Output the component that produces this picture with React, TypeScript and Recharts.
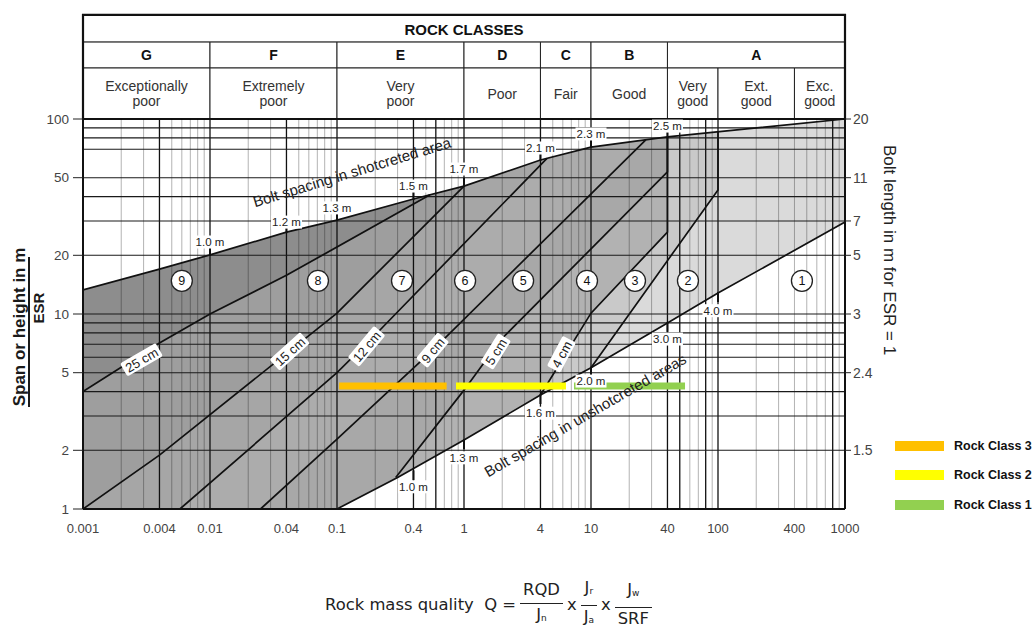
import React from "react";
import {
  ComposedChart,
  Area,
  Line,
  Scatter,
  XAxis,
  YAxis,
  ReferenceLine,
  ReferenceArea,
} from "recharts";

interface Pt {
  q: number;
  s: number;
}

// axes: rock mass quality Q (x) against span / ESR (y), both logarithmic
const qTicks = [0.001, 0.004, 0.01, 0.04, 0.1, 0.4, 1, 4, 10, 40, 100, 400, 1000];
const spanTicks = [1, 2, 5, 10, 20, 50, 100];
const boltTicks = [2, 5, 10, 20, 30, 50, 100];
const boltLengths = ["1.5", "2.4", "3", "5", "7", "11", "20"];

const qGridMinor = [
  0.002, 0.003, 0.005, 0.006, 0.007, 0.008, 0.009,
  0.02, 0.03, 0.05, 0.06, 0.07, 0.08, 0.09,
  0.2, 0.3, 0.5, 0.7, 0.8, 0.9,
  2, 3, 5, 6, 7, 8, 9,
  20, 30, 60, 70, 90,
  200, 300, 400, 500, 600, 700, 900,
];
const qGridMajor = [0.004, 0.01, 0.04, 0.1, 0.4, 0.6, 1, 4, 10, 40, 50, 80, 100, 800];
const spanGrid = [2, 3, 4, 5, 6, 7, 8, 9, 10, 20, 30, 40, 50, 70, 80, 90];

// boundary lines
const shotcreteLine: Pt[] = [
  { q: 0.001, s: 13.3 },
  { q: 0.004, s: 17 },
  { q: 0.01, s: 20.1 },
  { q: 0.04, s: 26.3 },
  { q: 0.1, s: 30.3 },
  { q: 0.4, s: 38.9 },
  { q: 1, s: 45.3 },
  { q: 4, s: 61.6 },
  { q: 10, s: 71.8 },
  { q: 40, s: 80.9 },
  { q: 1000, s: 100 },
];
const unshotcreteLine: Pt[] = [
  { q: 0.1, s: 1 },
  { q: 0.3, s: 1.45 },
  { q: 1, s: 2.26 },
  { q: 4, s: 3.84 },
  { q: 10, s: 5.3 },
  { q: 40, s: 9 },
  { q: 100, s: 12.8 },
  { q: 1000, s: 29.6 },
];
const line25cm: Pt[] = [
  { q: 0.001, s: 4 },
  { q: 0.004, s: 7.1 },
  { q: 0.01, s: 10 },
  { q: 0.04, s: 15.8 },
  { q: 0.0735, s: 19.7 },
  { q: 0.54, s: 40.9 },
];
const line15cm: Pt[] = [
  { q: 0.001, s: 1 },
  { q: 0.004, s: 1.89 },
  { q: 0.1, s: 10.1 },
  { q: 1, s: 45.3 },
];
const line12cm: Pt[] = [
  { q: 0.0058, s: 1 },
  { q: 0.1, s: 5 },
  { q: 0.218, s: 8.28 },
  { q: 4.5, s: 62.8 },
];
const line9cm: Pt[] = [
  { q: 0.025, s: 1 },
  { q: 0.1, s: 2.28 },
  { q: 0.57, s: 6.54 },
  { q: 27, s: 78.2 },
];
const line5cm: Pt[] = [
  { q: 0.29, s: 1.45 },
  { q: 1, s: 4.07 },
  { q: 1.94, s: 7.36 },
  { q: 40, s: 53.5 },
  { q: 40, s: 80.9 },
];
const line4cm: Pt[] = [
  { q: 4, s: 3.84 },
  { q: 10, s: 10.1 },
  { q: 40, s: 26.3 },
  { q: 40, s: 80.9 },
];
const lineBolting: Pt[] = [
  { q: 10, s: 5.3 },
  { q: 16.3, s: 8.28 },
  { q: 100, s: 43.3 },
  { q: 100, s: 85.9 },
];

const tailFrom = (line: Pt[]) => [
  ...line,
  ...shotcreteLine.filter((p) => p.q > line[line.length - 1].q),
];

// painted from the darkest (left) to the lightest (right)
const fillLayers = [
  { key: "r9", data: shotcreteLine, fill: "#8d8d8d" },
  { key: "r8", data: tailFrom(line25cm), fill: "#9e9e9e" },
  { key: "r7", data: tailFrom(line15cm), fill: "#a6a6a6" },
  { key: "r6", data: tailFrom(line12cm), fill: "#acacac" },
  { key: "r5", data: tailFrom(line9cm), fill: "#a8a8a8" },
  { key: "r4", data: tailFrom(line5cm), fill: "#b2b2b2" },
  { key: "r3", data: tailFrom(line4cm), fill: "#c9c9c9" },
  { key: "r2", data: tailFrom(lineBolting), fill: "#dadada" },
  { key: "r1", data: unshotcreteLine, fill: "#ffffff" },
];

const boundaryLines = [
  shotcreteLine,
  unshotcreteLine,
  line25cm,
  line15cm,
  line12cm,
  line9cm,
  line5cm,
  line4cm,
  lineBolting,
];

const thicknessLabels = [
  { q: 0.0029, s: 5.8, text: "25 cm", angle: -30 },
  { q: 0.0427, s: 6.4, text: "15 cm", angle: -42 },
  { q: 0.172, s: 6.8, text: "12 cm", angle: -50 },
  { q: 0.57, s: 6.5, text: "9 cm", angle: -50 },
  { q: 1.79, s: 6.4, text: "5 cm", angle: -58 },
  { q: 5.9, s: 6.2, text: "4 cm", angle: -62 },
];

const shotcreteSpacing = [
  { q: 0.01, s: 20.1, text: "1.0 m", ls: 23.4 },
  { q: 0.04, s: 26.3, text: "1.2 m", ls: 29.6 },
  { q: 0.1, s: 30.3, text: "1.3 m", ls: 35 },
  { q: 0.4, s: 38.9, text: "1.5 m", ls: 45.3 },
  { q: 1, s: 45.3, text: "1.7 m", ls: 55.4 },
  { q: 4, s: 61.6, text: "2.1 m", ls: 71 },
  { q: 10, s: 71.8, text: "2.3 m", ls: 83.8 },
  { q: 40, s: 80.9, text: "2.5 m", ls: 92 },
];
const unshotcreteSpacing = [
  { q: 0.4, s: 1.56, text: "1.0 m", ls: 1.3 },
  { q: 1, s: 2.26, text: "1.3 m", ls: 1.83 },
  { q: 4, s: 3.84, text: "1.6 m", ls: 3.1 },
  { q: 10, s: 5.3, text: "2.0 m", ls: 4.53 },
  { q: 40, s: 9, text: "3.0 m", ls: 7.44 },
  { q: 100, s: 12.8, text: "4.0 m", ls: 10.4 },
];

const categoryMarks = [
  { q: 0.006, s: 14.8, n: 9 },
  { q: 0.0708, s: 14.8, n: 8 },
  { q: 0.325, s: 14.8, n: 7 },
  { q: 1.02, s: 14.8, n: 6 },
  { q: 2.92, s: 14.8, n: 5 },
  { q: 9.3, s: 14.8, n: 4 },
  { q: 22.2, s: 14.8, n: 3 },
  { q: 58, s: 14.8, n: 2 },
  { q: 458, s: 14.8, n: 1 },
];

const lineTitles = [
  { q: 0.131, s: 53.5, text: "Bolt spacing in shotcreted area", angle: -17 },
  { q: 9, s: 3.03, text: "Bolt spacing in unshotcreted areas", angle: -30 },
];

const rockClassBars = [
  { name: "Rock Class 3", color: "#FFC000", from: 0.104, to: 0.73, s: 4.27 },
  { name: "Rock Class 2", color: "#FFFF00", from: 0.865, to: 6.35, s: 4.27 },
  { name: "Rock Class 1", color: "#92D050", from: 7.35, to: 55, s: 4.27 },
];

// header table, rows given as span values above the plot
const headerRows = { desc: [100, 182.6], letter: [182.6, 248], title: [248, 341.6] };
const classColumns = [
  { label: "G", from: 0.001, to: 0.01 },
  { label: "F", from: 0.01, to: 0.1 },
  { label: "E", from: 0.1, to: 1 },
  { label: "D", from: 1, to: 4 },
  { label: "C", from: 4, to: 10 },
  { label: "B", from: 10, to: 40 },
  { label: "A", from: 40, to: 1000 },
];
const qualityColumns = [
  { lines: ["Exceptionally", "poor"], from: 0.001, to: 0.01 },
  { lines: ["Extremely", "poor"], from: 0.01, to: 0.1 },
  { lines: ["Very", "poor"], from: 0.1, to: 1 },
  { lines: ["Poor"], from: 1, to: 4 },
  { lines: ["Fair"], from: 4, to: 10 },
  { lines: ["Good"], from: 10, to: 40 },
  { lines: ["Very", "good"], from: 40, to: 100 },
  { lines: ["Ext.", "good"], from: 100, to: 400 },
  { lines: ["Exc.", "good"], from: 400, to: 1000 },
];

const FONT = '"Liberation Sans", Arial, Helvetica, sans-serif';

const CellText = ({ viewBox, lines, bold, size }: any) => {
  if (!viewBox) return null;
  const { x, y, width, height } = viewBox;
  const cx = x + width / 2;
  const lh = size * 1.12;
  const y0 = y + height / 2 - ((lines.length - 1) * lh) / 2;
  return (
    <text
      textAnchor="middle"
      dominantBaseline="central"
      fontSize={size}
      fontWeight={bold ? 700 : 400}
      fill={bold ? "#111" : "#333"}
      fontFamily={FONT}
    >
      {lines.map((l: string, i: number) => (
        <tspan key={i} x={cx} y={y0 + i * lh}>
          {l}
        </tspan>
      ))}
    </text>
  );
};

const SpanAxisLabel = ({ viewBox }: any) => {
  if (!viewBox) return null;
  const cy = viewBox.y + viewBox.height / 2;
  return (
    <g fontFamily={FONT} fill="#1a1a1a">
      <text
        transform={`translate(19, ${cy + 13}) rotate(-90)`}
        textAnchor="middle"
        dominantBaseline="central"
        fontSize={17}
        fontWeight={700}
      >
        Span or height in m
      </text>
      <line x1={29} x2={29} y1={cy - 57} y2={cy + 93} stroke="#1a1a1a" strokeWidth={2} />
      <text
        transform={`translate(38, ${cy - 6}) rotate(-90)`}
        textAnchor="middle"
        dominantBaseline="central"
        fontSize={15}
        fontWeight={700}
      >
        ESR
      </text>
    </g>
  );
};

const BoltAxisLabel = ({ viewBox }: any) => {
  if (!viewBox) return null;
  const cy = viewBox.y + viewBox.height / 2;
  return (
    <text
      transform={`translate(${viewBox.x + 44}, ${cy - 64}) rotate(90)`}
      textAnchor="middle"
      dominantBaseline="central"
      fontSize={17}
      fill="#222"
      fontFamily={FONT}
    >
      Bolt length in m for ESR = 1
    </text>
  );
};

const TickUp = (p: any) => (
  <line x1={p.cx} x2={p.cx} y1={p.cy - 8} y2={p.cy + 1} stroke="#111" strokeWidth={2} />
);
const TickDown = (p: any) => (
  <line x1={p.cx} x2={p.cx} y1={p.cy - 1} y2={p.cy + 9} stroke="#111" strokeWidth={2} />
);

const BoxLabel = (p: any) => {
  const t = p.payload.text;
  const w = t.length * 7 + 6;
  return (
    <g transform={`translate(${p.cx}, ${p.cy}) rotate(${p.payload.angle ?? 0})`}>
      <rect x={-w / 2} y={-8} width={w} height={15} rx={2} fill="#fff" />
      <text textAnchor="middle" dy={4.5} fontSize={13} fill="#222" fontFamily={FONT}>
        {t}
      </text>
    </g>
  );
};

const SpacingLabel = (p: any) => {
  const t = p.payload.text;
  const w = t.length * 5.8 + 2;
  return (
    <g>
      <rect x={p.cx - w / 2} y={p.cy - 6.5} width={w} height={13} fill="#fff" />
      <text x={p.cx} y={p.cy} dy={4} textAnchor="middle" fontSize={11.5} fill="#222" fontFamily={FONT}>
        {t}
      </text>
    </g>
  );
};

const CircleMark = (p: any) => (
  <g>
    <circle cx={p.cx} cy={p.cy} r={10.5} fill="#fff" stroke="#222" strokeWidth={1.3} />
    <text x={p.cx} y={p.cy} dy={4.5} textAnchor="middle" fontSize={12.5} fill="#111" fontFamily={FONT}>
      {p.payload.n}
    </text>
  </g>
);

const SlantTitle = (p: any) => (
  <text
    transform={`translate(${p.cx}, ${p.cy}) rotate(${p.payload.angle})`}
    textAnchor="middle"
    dominantBaseline="central"
    fontSize={15}
    fill="#222"
    fontFamily={FONT}
  >
    {p.payload.text}
  </text>
);

const Frac = ({ top, bottom }: { top: React.ReactNode; bottom: React.ReactNode }) => (
  <span
    style={{
      display: "inline-flex",
      flexDirection: "column",
      alignItems: "center",
      margin: "0 4px",
      lineHeight: "17px",
    }}
  >
    <span style={{ padding: "0 3px 5px" }}>{top}</span>
    <span style={{ alignSelf: "stretch", borderTop: "1.3px solid #222" }} />
    <span style={{ padding: "2px 3px 0" }}>{bottom}</span>
  </span>
);

const sub = (t: string) => <sub style={{ fontSize: 9, verticalAlign: "-1px" }}>{t}</sub>;

export default function App() {
  return (
    <div
      style={{
        position: "absolute",
        left: 0,
        top: 0,
        width: 1036,
        height: 629,
        overflow: "hidden",
        background: "#fff",
        fontFamily: FONT,
      }}
    >
      <ComposedChart width={1036} height={629} margin={{ top: 119, right: 151, bottom: 90, left: 0 }}>
        <XAxis
          dataKey="q"
          type="number"
          scale="log"
          domain={[0.001, 1000]}
          allowDataOverflow
          ticks={qTicks}
          tickFormatter={(v: number) => String(v)}
          tickLine={false}
          tickMargin={9}
          height={30}
          axisLine={{ stroke: "#111", strokeWidth: 2 }}
          tick={{ fontSize: 13, fill: "#444" }}
        />
        <YAxis
          type="number"
          scale="log"
          domain={[1, 100]}
          allowDataOverflow
          ticks={spanTicks}
          width={83}
          tickSize={10}
          tickMargin={4}
          tickLine={{ stroke: "#222" }}
          axisLine={{ stroke: "#111", strokeWidth: 2 }}
          tick={{ fontSize: 13.5, fill: "#444" }}
          label={<SpanAxisLabel />}
        />
        <YAxis
          yAxisId="bolt"
          orientation="right"
          type="number"
          scale="log"
          domain={[1, 100]}
          allowDataOverflow
          ticks={boltTicks}
          tickFormatter={(v: number) => boltLengths[boltTicks.indexOf(v)]}
          width={40}
          tickSize={6}
          tickLine={{ stroke: "#222" }}
          axisLine={{ stroke: "#111", strokeWidth: 2 }}
          tick={{ fontSize: 14, fill: "#444" }}
          label={<BoltAxisLabel />}
        />

        {fillLayers.map((l) => (
          <Area
            key={l.key}
            data={l.data}
            dataKey="s"
            type="linear"
            stroke="none"
            fill={l.fill}
            fillOpacity={1}
            baseValue={1}
            dot={false}
            activeDot={false}
            isAnimationActive={false}
          />
        ))}

        {qGridMinor.map((v) => (
          <ReferenceLine key={`qm${v}`} x={v} stroke="#000" strokeOpacity={0.3} strokeWidth={1} />
        ))}
        {qGridMajor.map((v) => (
          <ReferenceLine key={`qM${v}`} x={v} stroke="#111" strokeWidth={1.3} />
        ))}
        {spanGrid.map((v) => (
          <ReferenceLine key={`s${v}`} y={v} stroke="#1a1a1a" strokeWidth={1.1} />
        ))}

        {boundaryLines.map((d, i) => (
          <Line
            key={`b${i}`}
            data={d}
            dataKey="s"
            type="linear"
            stroke="#111"
            strokeWidth={1.7}
            dot={false}
            activeDot={false}
            isAnimationActive={false}
          />
        ))}

        <Scatter data={shotcreteSpacing} dataKey="s" shape={TickUp} isAnimationActive={false} />
        <Scatter data={unshotcreteSpacing} dataKey="s" shape={TickDown} isAnimationActive={false} />
        <Scatter
          data={shotcreteSpacing.map((d) => ({ q: d.q, s: d.ls, text: d.text }))}
          dataKey="s"
          shape={SpacingLabel}
          isAnimationActive={false}
        />
        <Scatter
          data={unshotcreteSpacing.map((d) => ({ q: d.q, s: d.ls, text: d.text }))}
          dataKey="s"
          shape={SpacingLabel}
          isAnimationActive={false}
        />
        <Scatter data={thicknessLabels} dataKey="s" shape={BoxLabel} isAnimationActive={false} />
        <Scatter data={lineTitles} dataKey="s" shape={SlantTitle} isAnimationActive={false} />
        <Scatter data={categoryMarks} dataKey="s" shape={CircleMark} isAnimationActive={false} />

        {rockClassBars.map((c) => (
          <Line
            key={c.name}
            data={[
              { q: c.from, s: c.s },
              { q: c.to, s: c.s },
            ]}
            dataKey="s"
            stroke={c.color}
            strokeWidth={7}
            dot={false}
            activeDot={false}
            isAnimationActive={false}
          />
        ))}

        <ReferenceArea
          x1={0.001}
          x2={1000}
          y1={headerRows.title[0]}
          y2={headerRows.title[1]}
          ifOverflow="visible"
          fill="#fff"
          fillOpacity={1}
          stroke="#222"
          label={<CellText lines={["ROCK CLASSES"]} bold size={15} />}
        />
        {classColumns.map((c) => (
          <ReferenceArea
            key={c.label}
            x1={c.from}
            x2={c.to}
            y1={headerRows.letter[0]}
            y2={headerRows.letter[1]}
            ifOverflow="visible"
            fill="#fff"
            fillOpacity={1}
            stroke="#222"
            label={<CellText lines={[c.label]} bold size={14} />}
          />
        ))}
        {qualityColumns.map((c) => (
          <ReferenceArea
            key={c.lines.join(" ")}
            x1={c.from}
            x2={c.to}
            y1={headerRows.desc[0]}
            y2={headerRows.desc[1]}
            ifOverflow="visible"
            fill="#fff"
            fillOpacity={1}
            stroke="#222"
            label={<CellText lines={c.lines} size={14} />}
          />
        ))}
        <ReferenceArea
          x1={0.001}
          x2={1000}
          y1={headerRows.desc[0]}
          y2={headerRows.title[1]}
          ifOverflow="visible"
          fill="none"
          stroke="#111"
          strokeWidth={2.2}
        />
      </ComposedChart>

      <div style={{ position: "absolute", left: 895, top: 431 }}>
        {rockClassBars.map((c) => (
          <div key={c.name} style={{ display: "flex", alignItems: "center", height: 29.5 }}>
            <span style={{ display: "inline-block", width: 49, height: 10, background: c.color }} />
            <span style={{ marginLeft: 10, fontWeight: 700, fontSize: 12.5, color: "#111" }}>{c.name}</span>
          </div>
        ))}
      </div>

      <div
        style={{
          position: "absolute",
          left: 325,
          top: 579,
          display: "flex",
          alignItems: "center",
          fontFamily: '"DejaVu Sans", sans-serif',
          fontSize: 16.4,
          color: "#222",
          whiteSpace: "nowrap",
        }}
      >
        <span>Rock mass quality&nbsp; Q =</span>
        <Frac top="RQD" bottom={<>J{sub("n")}</>} />
        <span>x</span>
        <Frac top={<>J{sub("r")}</>} bottom={<>J{sub("a")}</>} />
        <span>x</span>
        <Frac top={<>J{sub("w")}</>} bottom="SRF" />
      </div>
    </div>
  );
}
